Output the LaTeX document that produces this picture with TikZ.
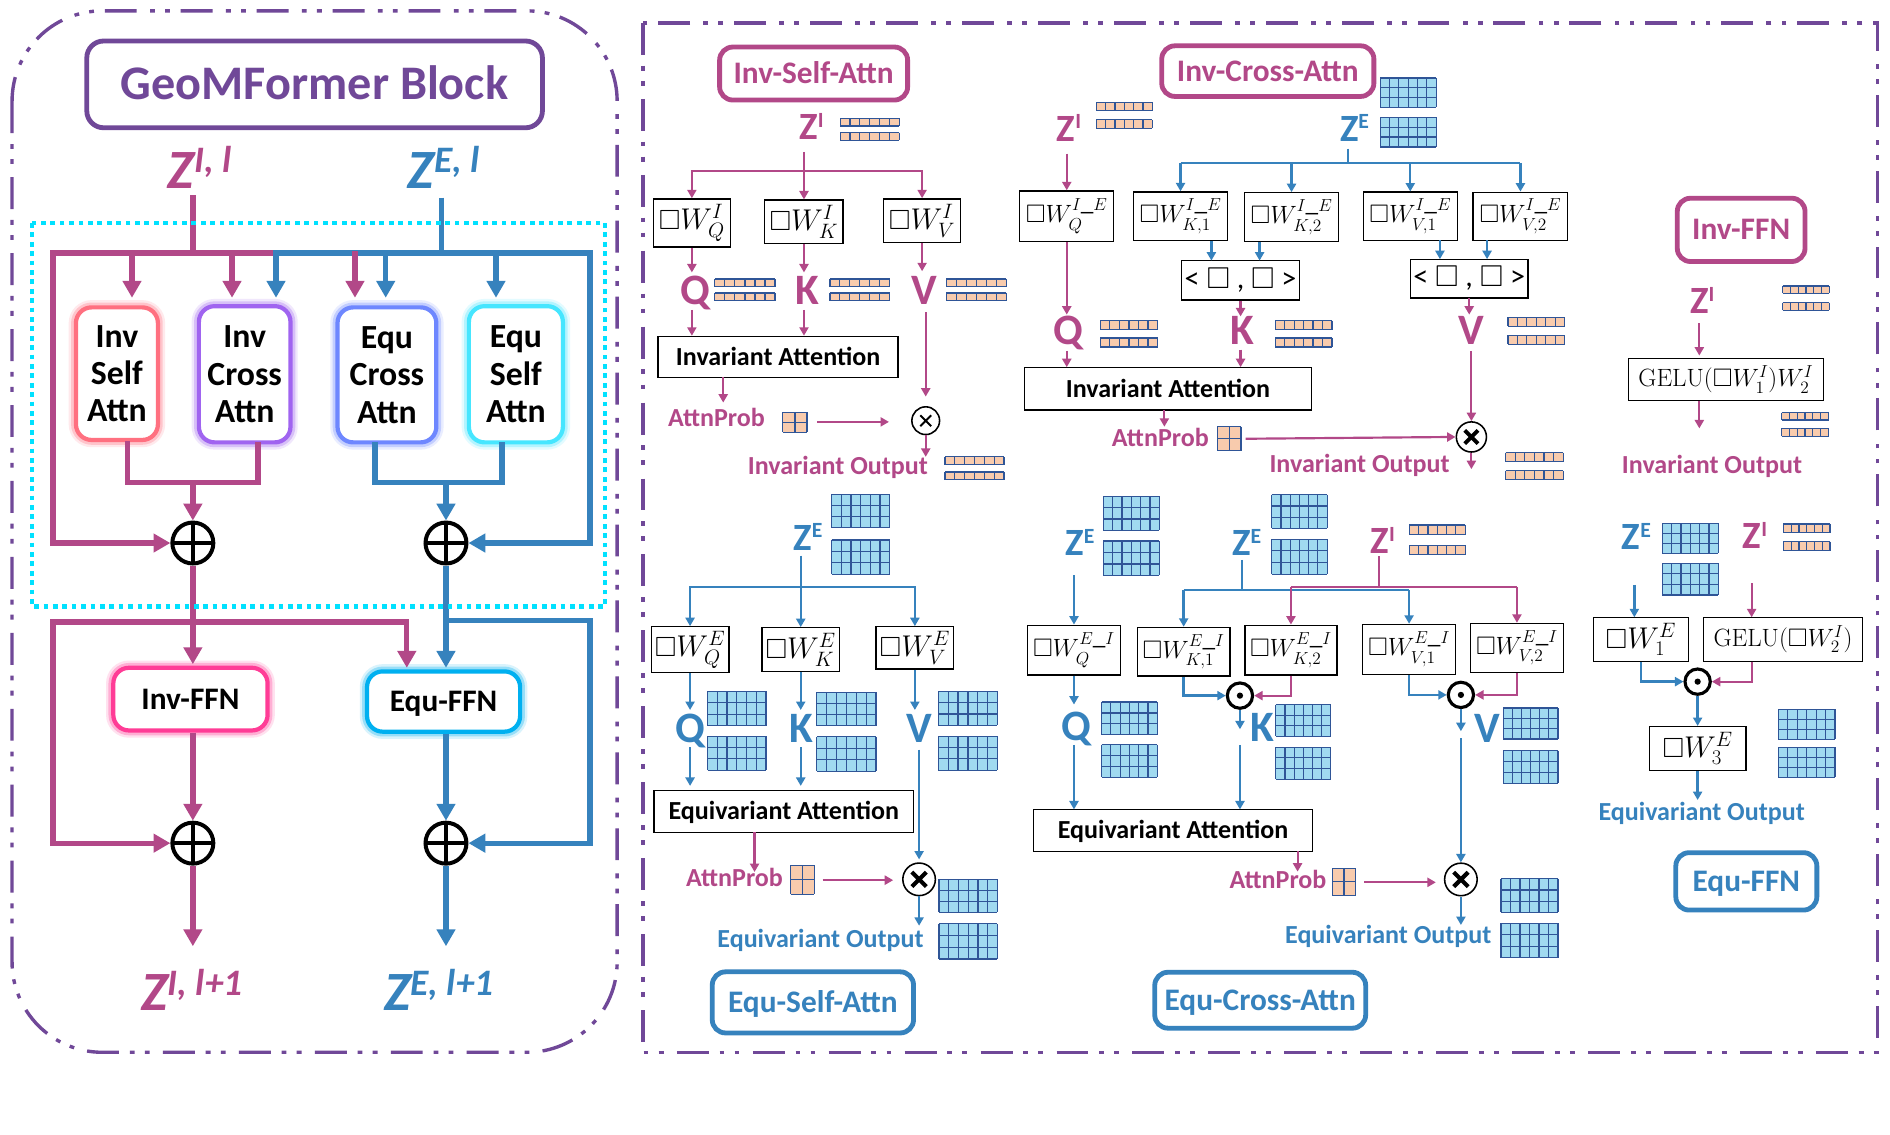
\documentclass[tikz,border=0pt]{standalone}
\usepackage[no-math]{fontspec}
\setmainfont{Carlito}
\usepackage{amssymb}
\usetikzlibrary{arrows.meta,calc}
\definecolor{mag}{RGB}{178,72,136}
\definecolor{blu}{RGB}{54,130,189}
\definecolor{purp}{RGB}{112,72,152}
\definecolor{cyd}{RGB}{0,225,255}
\definecolor{peach}{RGB}{248,203,173}
\definecolor{lblue}{RGB}{160,218,240}
\definecolor{cellc}{RGB}{47,85,151}
\definecolor{gInvSelf}{RGB}{255,112,128}
\definecolor{gInvCross}{RGB}{160,100,240}
\definecolor{gEquCross}{RGB}{110,135,255}
\definecolor{gEquSelf}{RGB}{70,230,255}
\definecolor{gInvFFN}{RGB}{255,60,150}
\definecolor{gEquFFN}{RGB}{0,176,240}
\newcommand{\fs}[1]{\fontsize{#1}{#1}\selectfont}
\newcommand{\ZR}[1]{Z\raisebox{10pt}{\fs{18}#1}}
\newcommand{\ZL}[1]{Z\raisebox{12.5pt}{\fs{31}#1}}
\newcommand{\ovec}[4]{%
  \fill[peach] (#1,#2) rectangle ++(#3,#4);
  \foreach \i in {0,...,6} \draw[cellc,line width=1] ({#1+\i*#3/6},#2) -- ++(0,#4);
  \draw[cellc,line width=1] (#1,#2) -- ++(#3,0) (#1,{#2+#4}) -- ++(#3,0);}
\newcommand{\bgrid}[4]{%
  \fill[lblue] (#1,#2) rectangle ++(#3,#4);
  \foreach \i in {0,...,6} \draw[cellc,line width=1] ({#1+\i*#3/6},#2) -- ++(0,#4);
  \foreach \j in {0,...,3} \draw[cellc,line width=1] (#1,{#2+\j*#4/3}) -- ++(#3,0);}
\newcommand{\pgrid}[4]{%
  \fill[peach] (#1,#2) rectangle ++(#3,#4);
  \foreach \i in {0,1,2} \draw[cellc,line width=1] ({#1+\i*#3/2},#2) -- ++(0,#4);
  \foreach \j in {0,1,2} \draw[cellc,line width=1] (#1,{#2+\j*#4/2}) -- ++(#3,0);}
\newcommand{\xmark}[3]{% node, half-size, width
  \draw[line width=#3] ([shift={(-#2,-#2)}]#1.center) -- ([shift={(#2,#2)}]#1.center)
    ([shift={(-#2,#2)}]#1.center) -- ([shift={(#2,-#2)}]#1.center);}
\tikzset{
  ddd/.style={dash pattern=on 26.5pt off 9pt on 4pt off 8.5pt on 4pt off 11pt},
  thickM/.style={draw=mag, line width=4.4},
  thickB/.style={draw=blu, line width=4.4},
  bigtip/.style={-{Triangle[width=15pt,length=14pt]}},
  bigtips/.style={{Triangle[width=15pt,length=14pt]}-{Triangle[width=15pt,length=14pt]}},
  thinM/.style={draw=mag, line width=1.8},
  thinB/.style={draw=blu, line width=2},
  tip/.style={-{Triangle[width=7.5pt,length=7pt]}},
  glow/.style={rounded corners=13, fill=white, draw=#1, line width=3.5,
    preaction={draw=#1, line width=12, draw opacity=0.15},
    preaction={draw=#1, line width=8, draw opacity=0.3}},
  lbox/.style={align=center, font=\bfseries\fontsize{28}{31}\selectfont, inner sep=0},
  titleM/.style={draw=mag, line width=4, rounded corners=11, fill=white, text=mag,
    font=\bfseries\fs{26}, inner sep=0, text height=16.7, text depth=0},
  titleB/.style={titleM, draw=blu, text=blu},
  wbox/.style={draw=black, line width=1.1, fill=white, inner sep=0, font=\fs{23}},
  wboxs/.style={wbox, font=\fs{21}},
  gbox/.style={draw=black, line width=1.1, fill=white, inner sep=0, font=\fs{21}},
  ipbox/.style={draw=black, line width=1.1, fill=white, inner sep=0, font=\fs{25}},
  iabox/.style={draw=black, line width=1.1, fill=white, font=\bfseries\fs{21.6},
    inner sep=0, text height=14, text depth=0},
  qkv/.style={font=\bfseries\fs{36}, inner sep=0, anchor=base west},
  zr/.style={font=\bfseries\fs{32}, inner sep=0, anchor=base west},
  zl/.style={font=\bfseries\itshape\fs{46}, inner sep=0, anchor=base west},
  lab/.style={font=\bfseries\fs{21.6}, inner sep=0},
  oplusS/.style={circle, draw=black, line width=3.3, minimum size=34, inner sep=0, fill=white,
    path picture={\draw[line width=3.3] (path picture bounding box.north) -- (path picture bounding box.south)
      (path picture bounding box.west) -- (path picture bounding box.east);}},
  otim/.style={circle, draw=black, line width=1.3, minimum size=#1, inner sep=0, fill=white},
  odot/.style={circle, draw=black, line width=2.6, minimum size=21, inner sep=0, fill=white},
}
\begin{document}
\begin{tikzpicture}[x=1pt,y=-1pt]
\useasboundingbox (0,0) rectangle (1568,940.8);
\fill[white] (0,0) rectangle (1568,940.8);

% ================= LEFT PANEL =================
\draw[purp, line width=2.8, ddd, rounded corners=75] (10,9) rectangle (512,873);
\node[draw=purp, line width=4, rounded corners=14, minimum width=378, minimum height=72, inner sep=0,
  text=purp, font=\bfseries\fs{40}, text height=25.5, text depth=0] (geo) at (261,70) {GeoMFormer Block};
\node[zl, text=mag] (zIl) at (139,156) {\ZL{I, l}};
\node[zl, text=blu] (zEl) at (338,156) {\ZL{E, l}};

\node[glow=gInvSelf, minimum width=68, minimum height=110, lbox] (bIS) at (97,310) {Inv\\Self\\Attn};
\node[glow=gInvCross, minimum width=76, minimum height=113, lbox] (bIC) at (203,310.5) {Inv\\Cross\\Attn};
\node[glow=gEquCross, minimum width=82, minimum height=112, lbox] (bEC) at (321,311) {Equ\\Cross\\Attn};
\node[glow=gEquSelf, minimum width=78, minimum height=113, lbox] (bES) at (428,310.5) {Equ\\Self\\Attn};
\node[glow=gInvFFN, minimum width=128, minimum height=52, font=\bfseries\fs{26}, inner sep=0,
  text height=16.7, text depth=0] (bIF) at (158,580) {Inv-FFN};
\node[glow=gEquFFN, minimum width=127, minimum height=50, font=\bfseries\fs{26}, inner sep=0,
  text height=16.7, text depth=0] (bEF) at (368,582) {Equ-FFN};

\node[oplusS] (pI1) at (160,450.5) {};
\node[oplusS] (pE1) at (370,450.5) {};
\node[oplusS] (pI2) at (160,699.5) {};
\node[oplusS] (pE2) at (370,699.5) {};

\coordinate (jIl) at (160,210);
\coordinate (jEl) at (366,210);
\draw[thickM] (160,162) -- (jIl);
\draw[thickM, bigtip] (294.5,210) -- (44,210) -- (44,450.5) -- (pI1.west);
\draw[thickM, bigtip] (109.5,210) -- (109.5,247);
\draw[thickM, bigtip] (192.5,210) -- (192.5,247);
\draw[thickB] (366,164) -- (jEl);
\draw[thickB, bigtips] (229,247) -- (229,210) -- (489.5,210) -- (489.5,450.5) -- (pE1.east);
\draw[thickB, bigtip] (320,210) -- (320,247);
\draw[thickB, bigtip] (411.5,210) -- (411.5,247);
\draw[thickM, bigtip] (294.5,208) -- (294.5,247);

\draw[thickM] (106,366) -- (106,400) -- (214,400) -- (214,367);
\draw[thickM, bigtip] (160,400) -- (pI1.north);
\draw[thickB] (311,367) -- (311,400) -- (416.5,400) -- (416.5,367);
\draw[thickB, bigtip] (370,400) -- (pE1.north);

\draw[thickM, bigtip] (pI1.south) -- (160,551);
\draw[thickM, bigtip] (160,516) -- (44,516) -- (44,699.5) -- (pI2.west);
\draw[thickM, bigtip] (160,516) -- (337.5,516) -- (337.5,554);
\draw[thickB, bigtip] (pE1.south) -- (370,554);
\draw[thickB, bigtip] (370,515) -- (489.5,515) -- (489.5,699.5) -- (pE2.east);
\draw[thickM, bigtip] (bIF.south -| pI2) -- (pI2.north);
\draw[thickB, bigtip] (bEF.south -| pE2) -- (pE2.north);
\draw[thickM, bigtip] (pI2.south) -- (160,785);
\draw[thickB, bigtip] (pE2.south) -- (370,785);

\node[zl, text=mag] (zIo) at (117,838) {\ZL{I, l+1}};
\node[zl, text=blu] (zEo) at (318.5,838) {\ZL{E, l+1}};

\draw[cyd, line width=3.9, dash pattern=on 3.9pt off 3.9pt] (26.5,185) rectangle (502,503);

% ================= RIGHT PANEL =================
\draw[purp, line width=2.8, ddd] (533.5,19) rectangle (1557.5,873);

% ---- Inv-Self-Attn ----
\node[titleM, minimum width=156, minimum height=44] (tIS) at (675,61) {Inv-Self-Attn};
\node[zr, text=mag] (zI1) at (663,116) {\ZR{I}};
\ovec{697}{98}{49}{6.5} \ovec{697}{110}{49}{6.5}
\node[wbox, minimum width=64, minimum height=40] (wqI) at (574,185) {$\square W_Q^I$};
\node[wbox, minimum width=65, minimum height=36] (wkI) at (667,184) {$\square W_K^I$};
\node[wbox, minimum width=64, minimum height=36] (wvI) at (765,183) {$\square W_V^I$};
\coordinate (jI1) at (667,142);
\draw[thinM] (667,126) -- (jI1);
\draw[thinM, tip] (jI1) -- (wqI.north |- jI1) -- (wqI.north);
\draw[thinM, tip] (jI1) -- (wvI.north |- jI1) -- (wvI.north);
\draw[thinM, tip] (jI1) -- (wkI.north);
\node[qkv, text=mag] (qI) at (564,253) {Q};
\node[qkv, text=mag] (kI) at (660,253) {K};
\node[qkv, text=mag] (vI) at (756,253) {V};
\draw[thinM, tip] (wqI.south) -- (574,226);
\draw[thinM, tip] (wkI.south) -- (667,226);
\draw[thinM, tip] (wvI.south) -- (765,225);
\ovec{593}{231.5}{50}{6.5} \ovec{593}{243}{50}{6.5}
\ovec{688.5}{231.5}{49.5}{6.5} \ovec{688.5}{243}{49.5}{6.5}
\ovec{785}{231.5}{50}{6.5} \ovec{785}{243}{50}{6.5}
\node[iabox, minimum width=199, minimum height=34] (iaI) at (645.5,296) {Invariant Attention};
\draw[thinM, tip] (574,257) -- (574,278.5);
\draw[thinM, tip] (667,257) -- (667,278.5);
\draw[thinM, tip] (600,313) -- (600,334);
\node[lab, text=mag, anchor=base west] (apI) at (554,354) {AttnProb};
\pgrid{649.5}{342}{20}{16.5}
\node[otim=23] (oI) at (768,349) {};
\xmark{oI}{4.5}{1.6}
\draw[thinM, tip] (678,350) -- (737.5,350);
\draw[thinM, tip] (768,259) -- (768,329);
\draw[thinM, tip] (oI.south) -- (768,379);
\node[lab, text=mag, anchor=base east] (ioI) at (770,394) {Invariant Output};
\ovec{784}{379}{49}{6.5} \ovec{784}{391.5}{49}{6.5}

% ---- Inv-Cross-Attn ----
\node[titleM, minimum width=176, minimum height=42] (tIC) at (1051.8,59) {Inv-Cross-Attn};
\node[zr, text=mag] (zI2) at (876.6,117) {\ZR{I}};
\ovec{909.6}{84.8}{46.4}{7} \ovec{909.6}{99.4}{46.4}{7}
\node[zr, text=blu] (zE2) at (1111.5,117) {\ZR{E}};
\bgrid{1145}{64.7}{46.5}{24.2} \bgrid{1145}{97.2}{46.5}{24.8}
\node[wboxs, minimum width=78, minimum height=42] (wqIE) at (885,179.4) {$\square W_Q^{I\_E}$};
\node[wboxs, minimum width=78, minimum height=40.5] (wk1) at (979.4,179.5) {$\square W_{K,1}^{I\_E}$};
\node[wboxs, minimum width=78, minimum height=40.5] (wk2) at (1071.5,180.2) {$\square W_{K,2}^{I\_E}$};
\node[wboxs, minimum width=78, minimum height=40] (wv1) at (1170,179.4) {$\square W_{V,1}^{I\_E}$};
\node[wboxs, minimum width=78.5, minimum height=40] (wv2) at (1261.4,179.5) {$\square W_{V,2}^{I\_E}$};
\draw[thinM, tip] (885,127.5) -- (wqIE.north);
\coordinate (jE2) at (1118.5,135.2);
\draw[thinB] (1118.5,123.4) -- (jE2);
\draw[thinB] (wk1.north |- jE2) -- (wv2.north |- jE2);
\draw[thinB, tip] (wk1.north |- jE2) -- (wk1.north);
\draw[thinB, tip] (wk2.north |- jE2) -- (wk2.north);
\draw[thinB, tip] (wv1.north |- jE2) -- (wv1.north);
\draw[thinB, tip] (wv2.north |- jE2) -- (wv2.north);
\node[ipbox, minimum width=97.6, minimum height=32.5] (ipK) at (1029.2,232.5) {< $\square$ , $\square$ >};
\node[ipbox, minimum width=97.7, minimum height=32.3] (ipV) at (1218.9,231.2) {< $\square$ , $\square$ >};
\draw[thinB, tip] (1005,199.7) -- (1005,216.2);
\draw[thinB, tip] (1045,200.5) -- (1045,216.2);
\draw[thinB, tip] (1194.6,199.4) -- (1194.6,215);
\draw[thinB, tip] (1233.7,199.5) -- (1233.7,215);
\node[qkv, text=mag] (qIE) at (873.4,286) {Q};
\node[qkv, text=mag] (kIE) at (1021,286) {K};
\node[qkv, text=mag] (vIE) at (1210,286) {V};
\draw[thinM, tip] (wqIE.south) -- (885,261);
\draw[thinM, tip] (ipK.south) -- (1029.2,262.5);
\draw[thinM, tip] (1218.9,247.3) -- (1218.9,261);
\ovec{912.8}{266}{47.6}{7.5} \ovec{912.8}{280.4}{47.6}{7.5}
\ovec{1058}{266}{47}{7.5} \ovec{1058}{280.4}{47}{7.5}
\ovec{1251}{263.3}{47}{7.5} \ovec{1251}{278.2}{47}{7.5}
\node[iabox, minimum width=238, minimum height=35.6] (iaIE) at (969,322.4) {Invariant Attention};
\draw[thinM, tip] (885,291) -- (885,304.6);
\draw[thinM, tip] (1029.2,290) -- (1029.2,304.6);
\draw[thinM, tip] (966,340.2) -- (966,354);
\node[lab, text=mag, anchor=base west] (apIE) at (922.3,370.5) {AttnProb};
\pgrid{1010}{354}{19.6}{20}
\node[otim=25] (oIE) at (1220.7,362.5) {};
\xmark{oIE}{5.5}{3.2}
\draw[thinM, tip] (1033.4,364) -- (oIE.west);
\draw[thinM, tip] (1220.7,291.4) -- (oIE.north);
\draw[thinM, tip] (oIE.south) -- (1220.7,389.2);
\node[lab, text=mag, anchor=base west] (ioIE) at (1053,392) {Invariant Output};
\ovec{1249}{375.4}{48}{7.5} \ovec{1249}{390.6}{48}{7.5}

% ---- Inv-FFN ----
\node[titleM, minimum width=106, minimum height=52.5] (tIF) at (1444.5,190.7) {Inv-FFN};
\node[zr, text=mag] (zI3) at (1402,260) {\ZR{I}};
\ovec{1479}{237.3}{38.6}{6} \ovec{1479}{251}{38.6}{6.5}
\node[gbox, minimum width=161.6, minimum height=35] (g1) at (1431.8,314.9) {$\mathrm{GELU}(\square W_1^I)W_2^I$};
\draw[thinM, tip] (1409.8,268) -- (1409.8,295);
\draw[thinM, tip] (1409.8,332.4) -- (1409.8,355.4);
\ovec{1478}{342.4}{39}{6} \ovec{1478}{355.4}{39}{6.5}
\node[lab, text=mag, anchor=base west] (ioF) at (1345.4,392.7) {Invariant Output};

% ---- Equ-Self-Attn ----
\node[titleB, minimum width=167, minimum height=50.7] (tES) at (674.4,831.6) {Equ-Self-Attn};
\node[zr, text=blu] (zE4) at (658,456.3) {\ZR{E}};
\bgrid{690}{410.2}{48}{27.7} \bgrid{690}{448}{48}{28.3}
\node[wbox, minimum width=64.5, minimum height=38] (wqE) at (572.5,539) {$\square W_Q^E$};
\node[wbox, minimum width=64.5, minimum height=36.2] (wkE) at (664.3,538.9) {$\square W_K^E$};
\node[wbox, minimum width=64.3, minimum height=35] (wvE) at (759,537.5) {$\square W_V^E$};
\coordinate (jE4) at (664.3,487);
\draw[thinB] (664.3,461) -- (jE4);
\draw[thinB, tip] (jE4) -- (wqE.north |- jE4) -- (wqE.north);
\draw[thinB, tip] (jE4) -- (wvE.north |- jE4) -- (wvE.north);
\draw[thinB, tip] (jE4) -- (wkE.north);
\node[qkv, text=blu] (qE) at (560,616) {Q};
\node[qkv, text=blu] (kE) at (654.6,616) {K};
\node[qkv, text=blu] (vE) at (752,616) {V};
\draw[thinB, tip] (wqE.south) -- (572.5,589);
\draw[thinB, tip] (wkE.south) -- (664.3,589);
\draw[thinB, tip] (wvE.south) -- (759,589);
\bgrid{587}{573.6}{48.5}{28.4} \bgrid{587}{610.7}{48.5}{28.3}
\bgrid{677.6}{574.5}{49.2}{27.6} \bgrid{677.6}{611.3}{49.2}{28.5}
\bgrid{778.5}{573.6}{49}{28} \bgrid{778.5}{610.7}{49}{28.3}
\node[iabox, minimum width=215.2, minimum height=34.7] (eaE) at (650.2,673.25) {Equivariant Attention};
\draw[thinB, tip] (572.5,620) -- (572.5,652);
\draw[thinB, tip] (664.3,620) -- (664.3,652);
\draw[thinM, tip] (626,690.6) -- (626,723.4);
\node[lab, text=mag, anchor=base west] (apE) at (569,735.7) {AttnProb};
\pgrid{656}{718}{19.6}{23.8}
\node[otim=27] (oES) at (762.5,729.5) {};
\xmark{oES}{6}{3.4}
\draw[thinM, tip] (682.5,730.2) -- (741,730.2);
\draw[thinB, tip] (762.5,622) -- (762.5,713);
\draw[thinB, tip] (oES.south) -- (762.5,768);
\node[lab, text=blu, anchor=base west] (eoE) at (595,786.3) {Equivariant Output};
\bgrid{779}{729.6}{48.5}{27.4} \bgrid{779}{766.4}{48.5}{29.2}

% ---- Equ-Cross-Attn ----
\node[titleB, minimum width=175, minimum height=46.4] (tEC) at (1045.5,829.8) {Equ-Cross-Attn};
\node[zr, text=blu] (zE5) at (883.7,460.6) {\ZR{E}};
\bgrid{915.4}{411.9}{46.3}{28} \bgrid{915.4}{448.8}{46.3}{28.6}
\node[zr, text=blu] (zE6) at (1022,460.6) {\ZR{E}};
\bgrid{1055}{410.4}{46}{28} \bgrid{1055}{447.3}{46}{29}
\node[zr, text=mag] (zI6) at (1137,459) {\ZR{I}};
\ovec{1169.2}{435.5}{46.3}{8} \ovec{1169.2}{452.3}{46.3}{8}
\node[wboxs, minimum width=77, minimum height=41.3] (wqEI) at (891,539.35) {$\square W_Q^{E\_I}$};
\node[wboxs, minimum width=77, minimum height=40.4] (wk1EI) at (982,540.7) {$\square W_{K,1}^{E\_I}$};
\node[wboxs, minimum width=76.4, minimum height=41.3] (wk2EI) at (1071,539.35) {$\square W_{K,2}^{E\_I}$};
\node[wboxs, minimum width=77, minimum height=41.4] (wv1EI) at (1169,538.7) {$\square W_{V,1}^{E\_I}$};
\node[wboxs, minimum width=77, minimum height=40.8] (wv2EI) at (1258.5,537.6) {$\square W_{V,2}^{E\_I}$};
\draw[thinB, tip] (891,477.4) -- (wqEI.north);
\coordinate (busB) at (0,489.5);
\coordinate (busM) at (0,487.3);
\draw[thinB] (1030.2,464.4) -- (1030.2,489.5);
\draw[thinB] (wk1EI.north |- busB) -- (wv1EI.north |- busB);
\draw[thinB, tip] (wk1EI.north |- busB) -- (wk1EI.north);
\draw[thinB, tip] (wv1EI.north |- busB) -- (wv1EI.north);
\draw[thinM] (1144,461.5) -- (1144,487.3);
\draw[thinM] (wk2EI.north |- busM) -- (wv2EI.north |- busM);
\draw[thinM, tip] (wk2EI.north |- busM) -- (wk2EI.north);
\draw[thinM, tip] (wv2EI.north |- busM) -- (wv2EI.north);
\node[odot] (odK) at (1028.7,577.1) {};
\node[odot] (odV) at (1212,576.5) {};
\fill (odK.center) circle (2.6);
\fill (odV.center) circle (2.6);
\draw[thinB, tip] (wk1EI.south) -- (wk1EI.south |- odK) -- (odK.west);
\draw[thinM, tip] (wk2EI.south) -- (wk2EI.south |- odK) -- (odK.east);
\draw[thinB, tip] (wv1EI.south) -- (wv1EI.south |- odV) -- (odV.west);
\draw[thinM, tip] (wv2EI.south) -- (wv2EI.south |- odV) -- (odV.east);
\draw[thinB, tip] (odK.south) -- (1028.7,605);
\draw[thinB, tip] (odV.south) -- (1212,606.6);
\node[qkv, text=blu] (qEI) at (880.5,614) {Q};
\node[qkv, text=blu] (kEI) at (1037,615.5) {K};
\node[qkv, text=blu] (vEI) at (1222.7,616) {V};
\draw[thinB, tip] (wqEI.south) -- (891,584.5);
\bgrid{913.9}{582.4}{46.2}{27.1} \bgrid{913.9}{617.8}{46.2}{27.2}
\bgrid{1058.5}{584.5}{45.5}{26.5} \bgrid{1058.5}{619.9}{45.5}{26.5}
\bgrid{1247.2}{587.4}{45.3}{25.7} \bgrid{1247.2}{622.8}{45.3}{27.2}
\node[iabox, minimum width=231.7, minimum height=34.8] (eaEI) at (973.15,688.9) {Equivariant Attention};
\draw[thinB, tip] (891,618) -- (891,671.5);
\draw[thinB, tip] (1028.7,618) -- (1028.7,671.5);
\draw[thinM, tip] (1076.5,706.3) -- (1076.5,723.1);
\node[lab, text=mag, anchor=base west] (apEI) at (1019.9,737) {AttnProb};
\pgrid{1105.4}{720.2}{19.2}{22.7}
\node[otim=27] (oEC) at (1212,729.6) {};
\xmark{oEC}{6}{3.4}
\draw[thinM, tip] (1132,732) -- (1191.2,732);
\draw[thinB, tip] (1212,612.5) -- (oEC.north);
\draw[thinB, tip] (oEC.south) -- (1212,767.4);
\node[lab, text=blu, anchor=base west] (eoEI) at (1066,783) {Equivariant Output};
\bgrid{1245.3}{729}{47.2}{28} \bgrid{1245.3}{765.9}{47.2}{28.6}

% ---- Equ-FFN ----
\node[titleB, minimum width=117, minimum height=47.6] (tEF) at (1448.8,731.2) {Equ-FFN};
\node[zr, text=blu] (zE7) at (1345.4,455.7) {\ZR{E}};
\bgrid{1379}{434.2}{46.6}{24.8} \bgrid{1379}{467.3}{46.6}{26.3}
\node[zr, text=mag] (zI7) at (1445.8,455) {\ZR{I}};
\ovec{1479.5}{434.7}{38.7}{7.2} \ovec{1479.5}{449.4}{38.7}{7.6}
\node[wbox, minimum width=78.8, minimum height=36.8] (w1E) at (1361.3,530.5) {$\square W_1^E$};
\node[gbox, minimum width=132.2, minimum height=36.8] (g2) at (1479.2,530.5) {$\mathrm{GELU}(\square W_2^I)$};
\draw[thinB, tip] (1355.9,485.3) -- (1355.9,512.1);
\draw[thinM, tip] (1453.2,484) -- (1453.2,512.1);
\node[odot] (odF) at (1408.4,565.5) {};
\fill (odF.center) circle (2.6);
\draw[thinB, tip] (w1E.south) -- (w1E.south |- odF) -- (odF.west);
\draw[thinM, tip] (1453.2,548.9) -- (1453.2,565.5) -- (odF.east);
\node[wbox, minimum width=80.2, minimum height=36.6] (w3E) at (1408.4,621.1) {$\square W_3^E$};
\draw[thinB, tip] (odF.south) -- (w3E.north);
\bgrid{1475.3}{588.5}{47.1}{24.9} \bgrid{1475.3}{620}{47.1}{24.9}
\draw[thinB, tip] (w3E.south) -- (1408.4,663.7);
\node[lab, text=blu, anchor=base west] (eoF) at (1326,680.3) {Equivariant Output};
\end{tikzpicture}
\end{document}
